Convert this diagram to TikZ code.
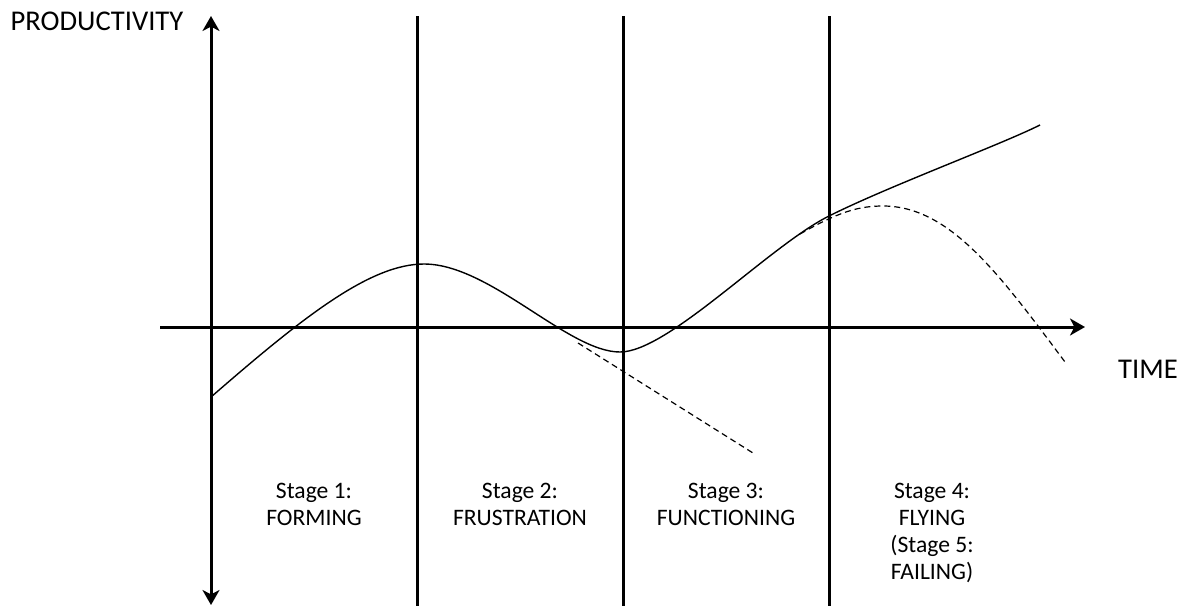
\documentclass[tikz,border=0pt]{standalone}
\usepackage{fontspec}
\setmainfont{Carlito}
\usetikzlibrary{arrows.meta}
\tikzset{
  % Arrow tip of the axes
  TIP/.tip={Stealth[length=7.5pt,width=8.5pt,inset=2.2pt]},
  % Axis line
  AX/.style={line width=1.5pt},
  % Stage separator
  SEP/.style={line width=1.5pt},
  % Productivity curve
  CRV/.style={line width=0.7pt},
  % Alternative course
  DSH/.style={line width=0.6pt,dash pattern=on 3pt off 2pt},
  % Label styles
  LB/.style={inner sep=0pt,font=\fontsize{14.3}{16}\selectfont},
  ST/.style={inner sep=0pt,anchor=north,align=center,
             font=\fontsize{11.8}{13.5}\selectfont}
}
\begin{document}
\begin{tikzpicture}[x=0.5pt,y=-0.5pt]
  \useasboundingbox (0,0) rectangle (1186,606);

  \coordinate (ytop) at (211,16);
  \coordinate (ybot) at (211,605);
  \coordinate (xleft) at (160,327);
  \coordinate (xright) at (1085,327);

  \foreach \x in {417,623,829}
    \draw[SEP] (\x,16) -- (\x,606);

  \draw[AX,TIP-TIP] (ybot) -- (ytop);
  \draw[AX,-TIP] (xleft) -- (xright);

  \node[LB] (prod) at (97,21)   {PRODUCTIVITY};
  \node[LB] (time) at (1148,369) {TIME};

  \node[ST] (s1) at (314,483) {Stage 1:\\FORMING};
  \node[ST] (s2) at (520,483) {Stage 2:\\FRUSTRATION};
  \node[ST] (s3) at (726,483) {Stage 3:\\FUNCTIONING};
  \node[ST] (s4) at (932,483) {Stage 4:\\FLYING\\(Stage 5:\\FAILING)};

  \coordinate (start) at (211,397);
  \coordinate (peak) at (424,264);
  \coordinate (low) at (620,352);
  \coordinate (turn) at (829,216);
  \coordinate (fly) at (1040,125);

  \draw[CRV] (start) .. controls (303,317) and (370,264) .. (peak)
    .. controls (490,264) and (568,352) .. (low)
    .. controls (668,352) and (769,246) .. (turn)
    .. controls (889,186) and (1000,145) .. (fly);

  \coordinate (dip) at (578,343);
  \coordinate (dipend) at (753,453);
  \coordinate (fail) at (800,234);
  \coordinate (top) at (883,206);
  \coordinate (failend) at (1065,362);

  \draw[DSH] (dip) -- (dipend);
  \draw[DSH] (fail) .. controls (840,211) and (860,206) .. (top)
    .. controls (950,206) and (1000,275) .. (failend);
\end{tikzpicture}
\end{document}
